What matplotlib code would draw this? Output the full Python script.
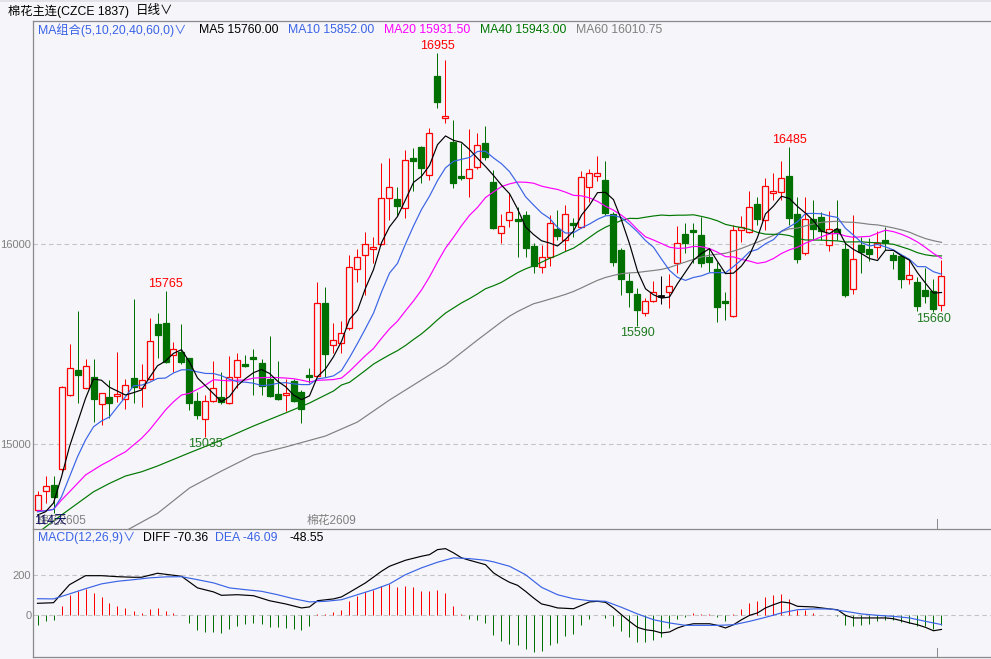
import numpy as np
import pandas as pd
import matplotlib
matplotlib.use("Agg")
import matplotlib.pyplot as plt

plt.rcParams['font.family'] = ['Liberation Sans', 'Noto Sans CJK SC', 'DejaVu Sans']

# ---- daily candles, cotton main contract (CZCE) ----
opens = [14670, 14763.5, 14795, 14873, 15245, 15370, 15278.5, 15333.5, 15198.5, 15235,
         15238.5, 15223.5, 15328.5, 15278.5, 15323.5, 15600, 15606.5, 15445, 15461.5, 15428.5,
         15215, 15123.5, 15213.5, 15233.5, 15203.5, 15336.5, 15398.5, 15436.5, 15403.5, 15325,
         15250, 15246.5, 15315, 15258.5, 15345, 15341.5, 15703.5, 15495, 15503.5, 15578.5,
         15873.5, 15945, 15973.5, 16000, 16228.5, 16223.5, 16178.5, 16431.5, 16485, 16345,
         16840, 16628.5, 16511.5, 16341.5, 16328.5, 16383.5, 16503.5, 16310, 16053.5, 16120,
         16125, 16145, 15990, 15886.5, 15936.5, 16075, 16020, 16103.5, 16086.5, 16286.5,
         16340, 16320, 16148.5, 15970, 15815, 15750, 15653.5, 15713.5, 15740, 15758.5,
         15906.5, 16048.5, 16070, 16043.5, 15936.5, 15873.5, 15715, 15640, 16070, 16061.5,
         16200, 16120, 16256.5, 16260, 16340, 16150, 15953.5, 16123.5, 16133.5, 15995,
         16076.5, 15975, 15776.5, 15995, 15975, 15983.5, 16020, 15945, 15940, 15826.5,
         15810, 15770, 15765, 15695]
highs = [14766, 14840, 14840, 15290, 15500, 15665, 15423, 15423, 15256, 15320,
         15461.5, 15323.5, 15723.5, 15400, 15628.5, 15656.5, 15765, 15511.5, 15600, 15430,
         15261.5, 15245, 15415, 15361.5, 15440, 15456.5, 15445, 15473.5, 15426.5, 15540,
         15415, 15325, 15325, 15270, 15378.5, 15811.5, 15786.5, 15603.5, 15615, 15945,
         15973.5, 16058.5, 16033.5, 16403.5, 16431.5, 16286.5, 16470, 16481.5, 16490, 16578.5,
         16955, 16920, 16620, 16503.5, 16573.5, 16556.5, 16590, 16370, 16150, 16253.5,
         16186.5, 16166.5, 16003.5, 15995, 16145, 16170, 16195, 16128.5, 16366.5, 16373.5,
         16441.5, 16415, 16161.5, 15980, 15853.5, 15778.5, 15728.5, 15816.5, 15840, 15850,
         16090, 16106.5, 16103.5, 16136.5, 15978.5, 15911.5, 15758.5, 16095, 16140, 16265,
         16236.5, 16328.5, 16356.5, 16416.5, 16485, 16236.5, 16236.5, 16220, 16161.5, 16166.5,
         16220, 16003.5, 16145, 16036.5, 16028.5, 16066.5, 16086.5, 15961.5, 15945, 15920,
         15833.5, 15878.5, 15823.5, 15920]
lows = [14665, 14706, 14655, 14853.5, 15240, 15203, 15275, 15111.5, 15095, 15128.5,
        15211.5, 15173.5, 15203, 15183.5, 15320, 15428.5, 15403.5, 15361.5, 15400, 15170,
        15123.5, 15035, 15210, 15200, 15200, 15278.5, 15385, 15245, 15245, 15235,
        15220, 15166.5, 15210, 15106.5, 15303.5, 15340, 15336.5, 15453.5, 15453.5, 15570,
        15811.5, 15745, 15906.5, 15995, 16120, 16140, 16128.5, 16266.5, 16303.5, 16320,
        16678.5, 16606.5, 16281.5, 16320, 16236.5, 16373.5, 16420, 16075, 16003.5, 16086.5,
        15933.5, 15936.5, 15853.5, 15856.5, 15890, 16020, 15965, 16036.5, 16080, 16211.5,
        16316.5, 16145, 15890, 15745, 15686.5, 15590, 15641.5, 15710, 15700, 15678.5,
        15853.5, 15956.5, 15906.5, 15886.5, 15861.5, 15611.5, 15620, 15635, 16011.5, 16055,
        16095, 16070, 16220, 16220, 16095, 15906.5, 15945, 16020, 16020, 15966.5,
        16020, 15733.5, 15748.5, 15856.5, 15916.5, 15928.5, 15970, 15875, 15778.5, 15800,
        15665, 15703.5, 15660, 15666.5]
closes = [14743.5, 14790, 14736.5, 15286, 15378.5, 15346.5, 15391.5, 15223.5, 15253.5, 15203.5,
          15250, 15293.5, 15283.5, 15320, 15515, 15543.5, 15411.5, 15476.5, 15411.5, 15206.5,
          15145, 15215, 15278.5, 15211.5, 15336.5, 15418.5, 15390, 15426.5, 15290, 15240,
          15225, 15253.5, 15216.5, 15173.5, 15336.5, 15703.5, 15448.5, 15520, 15556.5, 15886.5,
          15933.5, 16000, 15983.5, 16228.5, 16283.5, 16191.5, 16420, 16416.5, 16381.5, 16553.5,
          16711.5, 16638.5, 16306.5, 16331.5, 16373.5, 16493.5, 16433.5, 16081.5, 16090, 16160,
          16116.5, 15981.5, 15890, 15933.5, 16103.5, 16041.5, 16148.5, 16095, 16333.5, 16353.5,
          16353.5, 16156.5, 15911.5, 15823.5, 15761.5, 15670, 15713.5, 15761.5, 15740, 15790,
          16003.5, 16006.5, 16058.5, 15903.5, 15911.5, 15683.5, 15703.5, 16070, 16083.5, 16186.5,
          16123.5, 16290, 16265, 16328.5, 16128.5, 15926.5, 16123.5, 16073.5, 16066.5, 16073.5,
          16053.5, 15745, 15925, 15961.5, 15951.5, 16003.5, 16003.5, 15920, 15825, 15843.5,
          15690, 15741.5, 15673.5, 15838.5]

ma5_head = [14645, 14661, 14705, 14836]
ma10_head = [14661, 14666, 14673, 14736, 14836, 14936, 15020, 15086, 15115]
ma20_head = [14666, 14666, 14673, 14720, 14761, 14803, 14845, 14870, 14895, 14916,
             14940, 14961, 14995, 15028, 15070, 15120, 15170, 15211, 15245]
ma40_head_idx = [0, 1, 3, 5, 7, 9, 11, 13, 15, 17, 19, 23, 27, 31, 34, 37, 38]
ma40_head = [14555, 14585, 14645, 14703, 14761, 14803, 14840, 14861, 14890, 14923,
             14956, 15020, 15090, 15155, 15205, 15265, 15295]
ma60_head_idx = [11, 15, 19, 23, 27, 31, 36, 40, 44, 48, 51, 55, 58]
ma60_head = [14565, 14653, 14780, 14865, 14945, 14985, 15040, 15110, 15220, 15320,
             15395, 15520, 15611]

# MACD(12,26,9)
macd_bar = [-47, -27, -23, 47, 100, 120, 130, 112, 92, 62,
            47, 37, 22, 13, 32, 37, 22, 12, 0, -37,
            -72, -82, -83, -87, -70, -52, -42, -37, -42, -58,
            -60, -63, -67, -72, -52, 7, 5, 17, 28, 73,
            95, 117, 127, 145, 157, 140, 147, 140, 123, 123,
            127, 112, 47, 7, -17, -22, -37, -97, -130, -143,
            -147, -167, -185, -180, -150, -138, -105, -92, -47, -17,
            0, -13, -52, -80, -110, -135, -135, -122, -110, -63,
            -17, -10, 12, 7, 7, -10, -27, 7, 32, 62,
            70, 92, 103, 108, 82, 27, 28, 12, 3, 0,
            -5, -47, -52, -47, -42, -27, -22, -22, -35, -38,
            -52, -52, -67, -48.55]
diff_idx = [1, 3, 5, 7, 9, 11, 13, 14, 16, 18, 19, 21, 23, 24, 26, 28, 30, 32, 34, 35,
            36, 38, 39, 40, 42, 44, 45, 47, 49, 50, 51, 52, 53, 54, 55, 57, 58, 59, 60, 61,
            62, 63, 64, 65, 66, 68, 70, 71, 72, 73, 74, 75, 76, 77, 78, 79, 80, 81, 82, 83,
            85, 86, 87, 88, 89, 90, 91, 92, 93, 94, 95, 96, 98, 100, 101, 102, 103, 105, 107, 108,
            109, 110, 111, 112, 113, 114]
diff_val = [60, 63, 153, 198, 198, 193, 190, 190, 210, 200, 195, 137, 117, 100, 103, 98, 73, 57, 37, 42,
            73, 82, 92, 115, 162, 220, 245, 275, 295, 303, 328, 333, 312, 287, 275, 253, 212, 187, 165, 150,
            120, 87, 57, 48, 37, 33, 67, 70, 65, 37, 3, -30, -60, -72, -77, -88, -83, -63, -50, -42,
            -42, -50, -63, -47, -22, 0, 12, 37, 53, 67, 62, 45, 42, 32, 28, 0, -13, -13, -13, -17,
            -27, -38, -47, -60, -77, -70.36]
dea_idx = [1, 3, 5, 7, 9, 11, 13, 15, 17, 19, 21, 23, 25, 27, 29, 31, 33, 35, 37, 39,
           41, 43, 45, 47, 49, 51, 53, 55, 57, 58, 60, 62, 64, 66, 68, 70, 72, 74, 76, 78,
           80, 82, 84, 86, 88, 90, 92, 94, 96, 98, 100, 102, 104, 106, 108, 110, 112, 114]
dea_val = [83, 82, 107, 133, 157, 170, 178, 187, 192, 193, 178, 162, 137, 128, 120, 103, 83, 67, 70, 78,
           103, 128, 157, 203, 237, 265, 287, 283, 275, 267, 245, 203, 140, 103, 83, 73, 70, 40, 7, -22,
           -38, -50, -50, -50, -47, -30, -10, 12, 28, 32, 32, 20, 7, 0, -5, -13, -30, -46.09]

BG = "#F5F5FA"
RED = "#FF0000"
GREEN = "#007000"
BLUE = "#3A63E6"
MAGENTA = "#FF00FF"
MA40_C = "#007800"
GRAY = "#808080"
AXC = "#8A8A8A"

W, H = 991, 659
fig = plt.figure(figsize=(W / 100, H / 100), dpi=100, facecolor=BG)


def fx(px):
    return px / W


def fy(py):
    return 1 - py / H


ax = fig.add_axes([fx(33), fy(529), fx(991 - 33), (529 - 21) / H], facecolor=BG)
mx = fig.add_axes([fx(33), fy(657), fx(991 - 33), (657 - 529) / H], facecolor=BG)

# 8 px per candle; offset so candle centres land on pixel centres
XLIM = (-0.5625, 119.1875)

n = len(closes)
x = np.arange(n)
o = np.array(opens)
h = np.array(highs)
l = np.array(lows)
c = np.array(closes)

up = c > o
down = c < o
flat = c == o

# wicks
ax.vlines(x[up], h[up], np.maximum(o, c)[up], color=RED, lw=0.72, zorder=3)
ax.vlines(x[up], l[up], np.minimum(o, c)[up], color=RED, lw=0.72, zorder=3)
ax.vlines(x[down], l[down], h[down], color=GREEN, lw=0.72, zorder=3)
ax.vlines(x[flat], l[flat], h[flat], color="black", lw=0.72, zorder=3)

body_h = np.maximum(np.abs(c - o), 6)
body_b = np.minimum(o, c)
ax.bar(x[up], body_h[up], bottom=body_b[up], width=0.75, facecolor=BG,
       edgecolor=RED, linewidth=0.9, zorder=4)
ax.bar(x[down], body_h[down], bottom=body_b[down], width=0.75, facecolor=GREEN,
       edgecolor=GREEN, linewidth=0.9, zorder=4)
ax.bar(x[flat], body_h[flat], bottom=body_b[flat] - 3, width=0.75, facecolor="black",
       edgecolor="black", linewidth=0.5, zorder=4)

# moving averages
close_s = pd.Series(closes)


def ma_line(window, head_idx, head_val):
    full = close_s.rolling(window).mean()
    idx = list(head_idx) + list(range(window - 1, n))
    val = list(head_val) + list(full.iloc[window - 1:])
    return idx, val


for win, hi, hv, col in [
    (60, ma60_head_idx, ma60_head, GRAY),
    (40, ma40_head_idx, ma40_head, MA40_C),
    (20, list(range(19)), ma20_head, MAGENTA),
    (10, list(range(9)), ma10_head, BLUE),
    (5, list(range(4)), ma5_head, "black"),
]:
    xi, yi = ma_line(win, hi, hv)
    ax.plot(xi, yi, color=col, lw=0.85, zorder=5)

# extreme labels
for i in [16, 50, 94]:
    ax.annotate(f"{highs[i]:.0f}", (i, highs[i]), xytext=(0, 0.5), textcoords="offset points",
                ha="center", va="bottom", color=RED, fontsize=9, zorder=6)
for i in [21, 75, 112]:
    ax.annotate(f"{lows[i]:.0f}", (i, lows[i]), xytext=(0, -0.5), textcoords="offset points",
                ha="center", va="top", color="#1E7A1E", fontsize=9, zorder=6)

ax.set_xlim(*XLIM)
ax.set_ylim(14575, 17115)
ax.set_yticks([15000, 16000])
ax.set_yticklabels(["15000", "16000"])
ax.axhline(16000, color="#C4C4C4", lw=0.8, ls=(0, (4, 3)), zorder=1)
ax.axhline(15000, color="#C4C4C4", lw=0.8, ls=(0, (4, 3)), zorder=1)
ax.set_xticks([])

# MACD panel
mcol = [RED if v > 0 else GREEN for v in macd_bar]
mx.vlines(x, 0, macd_bar, colors=mcol, lw=0.72, zorder=3)
mx.plot(np.array(diff_idx) - 1, diff_val, color="black", lw=0.85, zorder=4)
mx.plot(np.array(dea_idx) - 1, dea_val, color=BLUE, lw=0.85, zorder=4)
mx.axhline(200, color="#C4C4C4", lw=0.8, ls=(0, (4, 3)), zorder=1)
mx.axhline(0, color="#C4C4C4", lw=0.8, ls=(0, (4, 3)), zorder=1)
mx.set_xlim(*XLIM)
mx.set_ylim(-208, 431)
mx.set_yticks([0, 200])
mx.set_yticklabels(["0", "200"])
mx.set_xticks([])

for a in (ax, mx):
    a.tick_params(axis="y", length=0, pad=1.2, labelsize=8, labelcolor=GRAY)
    for s in a.spines.values():
        s.set_color(AXC)
        s.set_linewidth(0.9)
    a.spines["right"].set_visible(False)
ax.spines["bottom"].set_visible(False)

# small marker ticks at the right end
ax.axvline(112.5, ymin=0, ymax=10 / 508, color=AXC, lw=0.72)
mx.axvline(112.5, ymin=0, ymax=9 / 128, color=AXC, lw=0.72)

# top bar
fig.patches.append(plt.Rectangle((0, fy(2)), 1, 2 / H, transform=fig.transFigure,
                                 facecolor="#E2E2E8", edgecolor="none"))
fig.text(fx(8), fy(11), "棉花主连(CZCE 1837)", fontsize=8.8, va="center", color="black")
fig.text(fx(136), fy(11), "日线∨", fontsize=9, va="center", color="black")

# MA header
head_y = fy(30)
fig.text(fx(38), head_y, "MA组合(5,10,20,40,60,0)∨", fontsize=8.8, va="center", color=BLUE)
fig.text(fx(199), head_y, "MA5 15760.00", fontsize=8.8, va="center", color="black")
fig.text(fx(288), head_y, "MA10 15852.00", fontsize=8.8, va="center", color=BLUE)
fig.text(fx(384), head_y, "MA20 15931.50", fontsize=8.8, va="center", color=MAGENTA)
fig.text(fx(480), head_y, "MA40 15943.00", fontsize=8.8, va="center", color=MA40_C)
fig.text(fx(576), head_y, "MA60 16010.75", fontsize=8.8, va="center", color=GRAY)

# contract labels at the bottom of the price panel
fig.text(fx(37), fy(521), "棉花2605", fontsize=8.5, va="center", color=GRAY)
fig.text(fx(34), fy(521), "114天", fontsize=9, va="center", color="#101060")
fig.text(fx(307), fy(521), "棉花2609", fontsize=8.5, va="center", color=GRAY)

# MACD header
mh_y = fy(538)
fig.text(fx(38), mh_y, "MACD(12,26,9)∨", fontsize=8.8, va="center", color=BLUE)
fig.text(fx(143), mh_y, "DIFF -70.36", fontsize=8.8, va="center", color="black")
fig.text(fx(215), mh_y, "DEA -46.09", fontsize=8.8, va="center", color=BLUE)
fig.text(fx(290), mh_y, "-48.55", fontsize=8.8, va="center", color="black")

fig.savefig("out.png", dpi=100, facecolor=BG)
